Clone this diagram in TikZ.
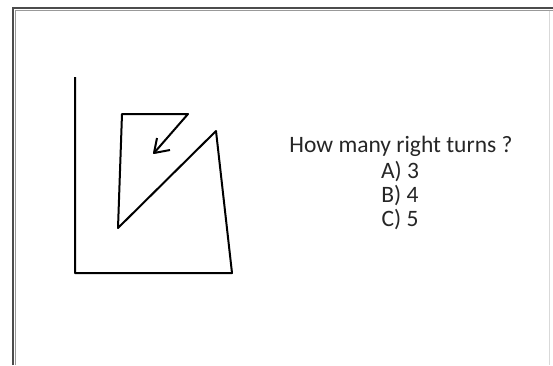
\documentclass[tikz,border=0pt]{standalone}
\usepackage{fontspec}
\setmainfont{Carlito}
\begin{document}
\begin{tikzpicture}[x=1pt,y=-1pt,font=\fontsize{23.5}{28}\selectfont]
  \useasboundingbox (0,0) rectangle (553,365);
  \fill[white] (0,0) rectangle (553,365);
  % frame
  \draw[line width=1.2pt,black!70] (13,365) -- (13,8) -- (553,8);
  \draw[line width=0.6pt,black!40] (15.5,365) -- (15.5,10.5) -- (553,10.5);
  \draw[line width=0.5pt,black!15] (549,10.5) -- (549,365);
  % path
  \draw[line width=2pt,line join=round] (75,77) -- (75,273) -- (232,273) -- (216,131)
    -- (118,228) -- (122,114) -- (188,114) -- (154,153);
  \draw[line width=2pt,line join=round] (157,138) -- (154,153) -- (170,150);
  % question
  \node[text=black!85] (q) at (401,146) {How many right turns ?};
  \node[text=black!85] (a) at (400,172) {A) 3};
  \node[text=black!85] (b) at (400,196) {B) 4};
  \node[text=black!85] (c) at (400,220) {C) 5};
\end{tikzpicture}
\end{document}
